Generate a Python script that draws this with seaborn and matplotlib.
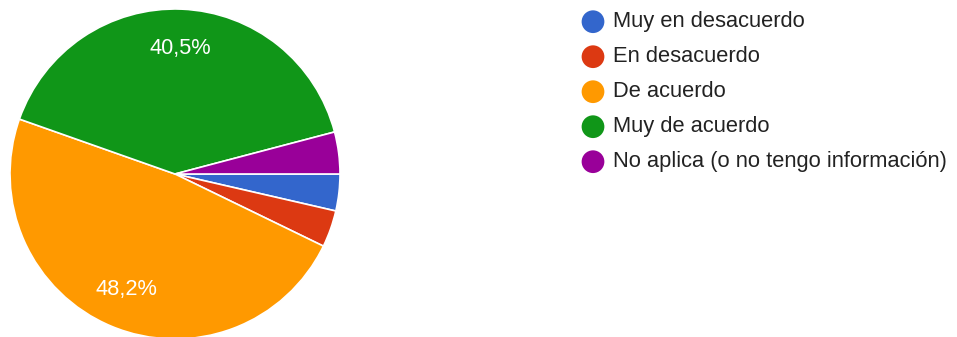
import matplotlib
matplotlib.use("Agg")
import matplotlib.pyplot as plt
import seaborn as sns

# Survey answers and their share of responses (%)
categories = [
    "Muy en desacuerdo",
    "En desacuerdo",
    "De acuerdo",
    "Muy de acuerdo",
    "No aplica (o no tengo información)",
]
shares = [3.6, 3.6, 48.2, 40.5, 4.1]
palette = ["#3366cc", "#dc3912", "#ff9900", "#109618", "#990099"]

sns.set_theme(style="white")
plt.rcParams["font.family"] = ["Liberation Sans", "DejaVu Sans"]

W, H = 957, 337
fig = plt.figure(figsize=(W / 100, H / 100), dpi=100)
ax = fig.add_axes([0, 0, 1, 1])

colors = sns.color_palette(palette)


def pct_label(p):
    return f"{p:.1f}%".replace(".", ",") if p > 10 else ""


wedges, _, autotexts = ax.pie(
    shares,
    colors=colors,
    startangle=0,
    counterclock=False,
    center=(175, H - 174),
    radius=165,
    autopct=pct_label,
    pctdistance=0.76,
    wedgeprops=dict(edgecolor="white", linewidth=1.2),
    textprops=dict(color="white", fontsize=15.7),
    frame=True,
)
ax.set_xlim(0, W)
ax.set_ylim(0, H)
ax.set_aspect("equal")
ax.axis("off")

# Legend drawn as coloured dots with labels
for i, (name, c) in enumerate(zip(categories, colors)):
    y = H - (21.7 + 35 * i)
    ax.scatter([593], [y], s=268, color=c, edgecolors="none", zorder=3)
    ax.text(613, y, name, fontsize=15.75, color="#222222", va="center", ha="left")

fig.savefig("out.png", dpi=100)
